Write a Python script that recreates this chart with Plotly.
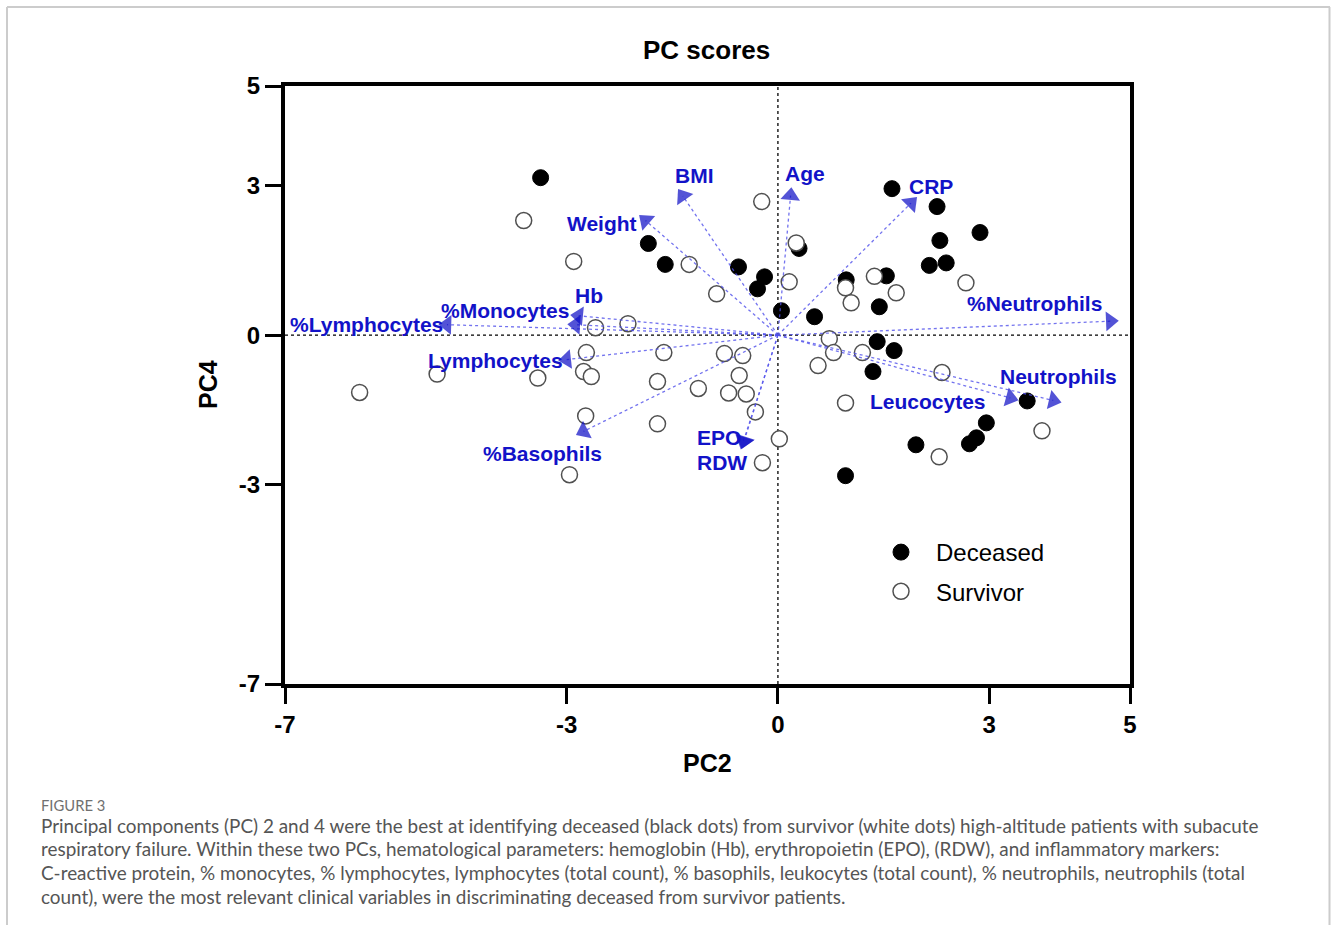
import plotly.graph_objects as go

# ---------------- data ----------------
deceased_x = [-3.37, -1.84, -1.60, -0.56, -0.19, -0.29, 0.05, 0.30, 0.52, 0.97,
              1.62, 2.26, 2.30, 2.87, 2.15, 2.39, 1.54, 1.44, 1.41, 1.65,
              1.35, 3.54, 2.96, 2.82, 2.72, 1.96, 0.96]
deceased_y = [3.16, 1.84, 1.42, 1.37, 1.17, 0.93, 0.49, 1.74, 0.37, 1.11,
              2.94, 2.58, 1.90, 2.06, 1.40, 1.45, 1.19, 0.57, -0.13, -0.31,
              -0.73, -1.32, -1.76, -2.06, -2.18, -2.20, -2.82]

survivor_x = [-3.61, -2.90, -0.23, -1.26, -0.87, 0.16, 0.26, -2.59, -2.13, 1.37,
              0.96, 1.68, 1.04, 2.67, 0.73, -2.72, -1.62, -0.76, -0.50, 0.79,
              1.20, 0.57, -2.76, -2.65, -1.71, -1.13, -0.55, -0.70, -0.45, 0.96,
              -0.32, -2.73, -1.71, 0.02, -0.22, -2.96, 2.33, 3.75, 2.29, -5.94,
              -4.84, -3.41]
survivor_y = [2.30, 1.48, 2.68, 1.42, 0.83, 1.07, 1.85, 0.15, 0.23, 1.18,
              0.95, 0.85, 0.65, 1.05, -0.07, -0.35, -0.35, -0.37, -0.41, -0.35,
              -0.35, -0.61, -0.73, -0.83, -0.93, -1.07, -0.81, -1.16, -1.18, -1.36,
              -1.54, -1.62, -1.78, -2.08, -2.56, -2.80, -0.75, -1.92, -2.44, -1.15,
              -0.78, -0.86]

loading_names = ["%Lymphocytes", "%Monocytes", "Hb", "Lymphocytes", "%Basophils",
                 "EPO", "RDW", "Weight", "BMI", "Age", "CRP", "%Neutrophils",
                 "Neutrophils", "Leucocytes"]
loading_x = [-4.70, -2.87, -2.83, -3.00, -2.76, -0.49, -0.48, -1.88, -1.35, 0.18,
             1.89, 4.72, 3.91, 3.30]
loading_y = [0.21, 0.21, 0.39, -0.49, -1.93, -2.13, -2.12, 2.30, 2.79, 2.80,
             2.65, 0.28, -1.31, -1.26]
label_x = [-5.84, -3.87, -2.69, -4.01, -3.35, -0.84, -0.80, -2.50, -1.18, 0.39,
           2.18, 3.64, 3.99, 2.13]
label_y = [0.21, 0.49, 0.79, -0.51, -2.38, -2.06, -2.56, 2.24, 3.20, 3.24,
           2.98, 0.63, -0.83, -1.33]

x_ticks = [-7, -3, 0, 3, 5]
y_ticks = [-7, -3, 0, 3, 5]

caption_head = "FIGURE 3"
caption_lines = [
    "Principal components (PC) 2 and 4 were the best at identifying deceased (black dots) from survivor (white dots) high-altitude patients with subacute",
    "respiratory failure. Within these two PCs, hematological parameters: hemoglobin (Hb), erythropoietin (EPO), (RDW), and inflammatory markers:",
    "C-reactive protein, % monocytes, % lymphocytes, lymphocytes (total count), % basophils, leukocytes (total count), % neutrophils, neutrophils (total",
    "count), were the most relevant clinical variables in discriminating deceased from survivor patients.",
]

# ---------------- layout geometry ----------------
W, H = 1331, 925
L, R, T, B = 285, 201, 86, 241
PW, PH = W - L - R, H - T - B


def px_x(px):
    return (px - L) / PW


def px_y(py):
    return (H - B - py) / PH


ARIAL = "Liberation Sans, Arial, sans-serif"
BLUE_TXT = "#1212c8"

fig = go.Figure()

fig.add_trace(go.Scatter(
    x=deceased_x, y=deceased_y, mode="markers", name="Deceased",
    legendgroup="d",
    marker=dict(size=16, color="black", line=dict(color="black", width=1)),
))
fig.add_trace(go.Scatter(
    x=survivor_x, y=survivor_y, mode="markers", name="Survivor",
    legendgroup="s",
    marker=dict(size=16, color="white", line=dict(color="#505050", width=1.5)),
))

for name, lx, ly in zip(loading_names, loading_x, loading_y):
    fig.add_trace(go.Scatter(
        x=[0, lx], y=[0, ly], mode="lines+markers", showlegend=False,
        hoverinfo="skip",
        line=dict(color="rgba(80,80,235,0.8)", width=1.3, dash="dot"),
        marker=dict(symbol="triangle-up", size=[0, 17], color="#0a0ac4",
                    angleref="previous", line=dict(width=0)),
    ))

annotations = []
for name, tx, ty in zip(loading_names, label_x, label_y):
    annotations.append(dict(
        x=tx, y=ty, xref="x", yref="y", text="<b>%s</b>" % name,
        showarrow=False, font=dict(family=ARIAL, size=21, color=BLUE_TXT),
        xanchor="center", yanchor="middle",
    ))

# axis titles and chart title
annotations.append(dict(x=px_x(706), y=px_y(50), xref="paper", yref="paper",
                        text="<b>PC scores</b>", showarrow=False,
                        font=dict(family=ARIAL, size=26, color="black"),
                        xanchor="center", yanchor="middle"))
annotations.append(dict(x=px_x(707), y=px_y(763), xref="paper", yref="paper",
                        text="<b>PC2</b>", showarrow=False,
                        font=dict(family=ARIAL, size=25, color="black"),
                        xanchor="center", yanchor="middle"))
annotations.append(dict(x=px_x(208), y=px_y(385), xref="paper", yref="paper",
                        text="<b>PC4</b>", showarrow=False, textangle=-90,
                        font=dict(family=ARIAL, size=25, color="black"),
                        xanchor="center", yanchor="middle"))

# caption
annotations.append(dict(x=px_x(39), y=px_y(805), xref="paper", yref="paper",
                        text=caption_head, showarrow=False,
                        font=dict(family="Lato, sans-serif", size=14.8, color="#707070"),
                        xanchor="left", yanchor="middle"))
for i, line in enumerate(caption_lines):
    annotations.append(dict(x=px_x(39), y=px_y(825 + 23.7 * i), xref="paper", yref="paper",
                            text=line, showarrow=False,
                            font=dict(family="Lato, sans-serif", size=18.9, color="#555555"),
                            xanchor="left", yanchor="middle"))

shapes = [
    # dotted zero lines
    dict(type="line", xref="x", yref="y", x0=0, x1=0, y0=-7, y1=5,
         line=dict(color="black", width=1.3, dash="dot"), layer="below"),
    dict(type="line", xref="x", yref="y", x0=-7, x1=5, y0=0, y1=0,
         line=dict(color="black", width=1.3, dash="dot"), layer="below"),
    # page frame
    dict(type="line", xref="paper", yref="paper", x0=px_x(7), x1=px_x(1330),
         y0=px_y(7), y1=px_y(7), line=dict(color="#cccccc", width=2)),
    dict(type="line", xref="paper", yref="paper", x0=px_x(7), x1=px_x(7),
         y0=px_y(7), y1=px_y(930), line=dict(color="#cccccc", width=2)),
    dict(type="line", xref="paper", yref="paper", x0=px_x(1329.5), x1=px_x(1329.5),
         y0=px_y(7), y1=px_y(930), line=dict(color="#cccccc", width=2)),
]

axis_common = dict(
    showgrid=False, zeroline=False, showline=True, linecolor="black", linewidth=4,
    mirror=True, ticks="outside", ticklen=16, tickwidth=3, tickcolor="black",
    tickfont=dict(family=ARIAL, size=24, color="black", weight="bold"),
    tickmode="array",
)

fig.update_layout(
    width=W, height=H,
    margin=dict(l=L, r=R, t=T, b=B),
    paper_bgcolor="white", plot_bgcolor="white",
    xaxis=dict(range=[-7, 5], tickvals=x_ticks, ticktext=[str(v) for v in x_ticks],
               **axis_common),
    yaxis=dict(range=[-7, 5], tickvals=y_ticks, ticktext=[str(v) for v in y_ticks],
               **axis_common),
    showlegend=True,
    legend=dict(x=px_x(866), y=px_y(530), xanchor="left", yanchor="top",
                font=dict(family=ARIAL, size=24, color="black"),
                bgcolor="rgba(0,0,0,0)", tracegroupgap=5, itemsizing="trace",
                itemwidth=60),
    annotations=annotations,
    shapes=shapes,
)

fig.write_html("out.html", config={"displayModeBar": False},
               post_script="document.body.style.margin='0';document.body.style.overflow='hidden';")
